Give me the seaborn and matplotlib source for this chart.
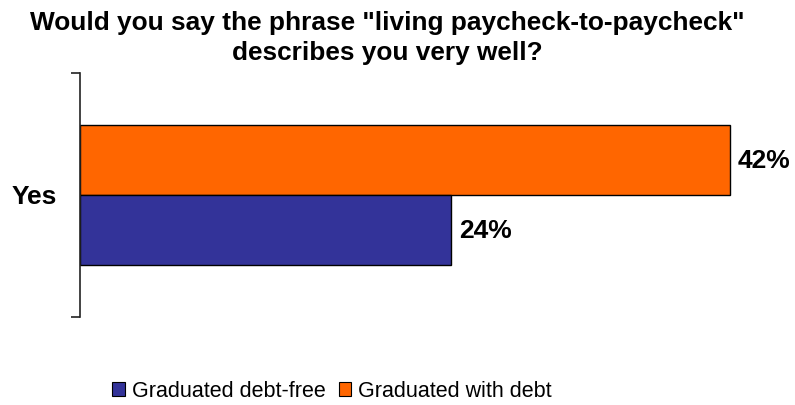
import matplotlib.pyplot as plt
import pandas as pd
import seaborn as sns
from matplotlib.patches import Patch

# Chart data
category = ["Yes"]
groups = ["Graduated debt-free", "Graduated with debt"]
debt_free = [24]
with_debt = [42]
colors = {"Graduated debt-free": "#333399", "Graduated with debt": "#FF6600"}

df = pd.DataFrame({
    "Answer": category * 2,
    "Group": [groups[0]] * len(debt_free) + [groups[1]] * len(with_debt),
    "Percent": debt_free + with_debt,
})

sns.set_style("white")
plt.rcParams["font.family"] = ["Liberation Sans", "DejaVu Sans"]
plt.rcParams["text.color"] = "black"

fig = plt.figure(figsize=(7.95, 4.06), dpi=100)
ax = fig.add_axes([80 / 795, 1 - 318 / 406, 700 / 795, 244 / 406])

# orange bar sits on top, so draw "with debt" first
sns.barplot(data=df, x="Percent", y="Answer", hue="Group",
            hue_order=[groups[1], groups[0]], palette=colors, saturation=1,
            orient="h", width=0.574, edgecolor="black", linewidth=1,
            legend=False, ax=ax)

ax.set_xlim(0, 700 / 15.476)
ax.set_xlabel("")
ax.set_ylabel("")
ax.set_xticks([])
for side in ["top", "right", "bottom"]:
    ax.spines[side].set_visible(False)
ax.spines["left"].set_color("#222222")
ax.spines["left"].set_linewidth(1.2)

ax.set_yticks([-0.5, 0.5], labels=["", ""])
ax.tick_params(axis="y", direction="out", length=6.5, width=1.2, color="#222222", left=True)
ax.set_ylim(0.5, -0.5)
ax.text(-23 / 700, 0.495, "Yes", transform=ax.transAxes, ha="right", va="center",
        fontsize=19, fontweight="bold")

for container in ax.containers:
    ax.bar_label(container, fmt="%d%%", padding=5.5, fontsize=19, fontweight="bold")

fig.text(387 / 795, 1 - 30 / 406, "Would you say the phrase \"living paycheck-to-paycheck\"",
         ha="center", va="baseline", fontsize=18.9, fontweight="bold")
fig.text(387 / 795, 1 - 60 / 406, "describes you very well?",
         ha="center", va="baseline", fontsize=18.9, fontweight="bold")

handles = [Patch(facecolor=colors[g], edgecolor="black", linewidth=0.8) for g in groups]
fig.legend(handles, groups, loc="center", bbox_to_anchor=(332 / 795, 1 - 392 / 406),
           ncol=2, frameon=False, fontsize=15.5, handlelength=0.6, handleheight=0.6,
           handletextpad=0.3, columnspacing=0.6, borderpad=0)

fig.savefig("out.png", dpi=100)
